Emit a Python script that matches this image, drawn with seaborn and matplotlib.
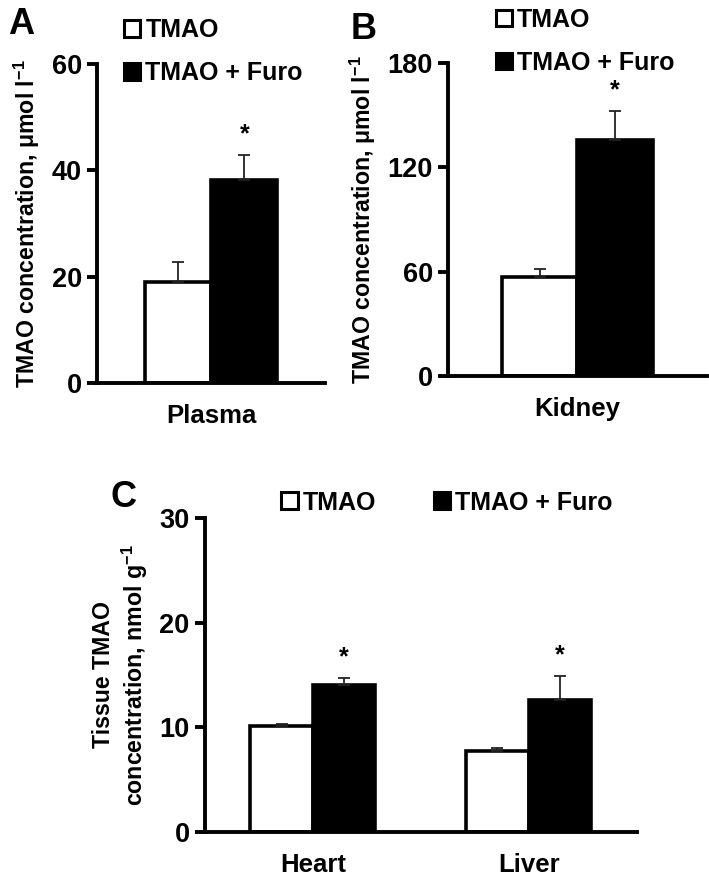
import matplotlib
matplotlib.use("Agg")
import matplotlib.pyplot as plt
from matplotlib.patches import Patch
import pandas as pd
import seaborn as sns

# groups and data
groups = ["TMAO", "TMAO + Furo"]

plasma_tissue = ["Plasma", "Plasma"]
plasma_mean = [19.0, 38.1]
plasma_sem = [3.8, 4.8]

kidney_tissue = ["Kidney", "Kidney"]
kidney_mean = [57.1, 136.0]
kidney_sem = [4.1, 16.6]

organ_tissue = ["Heart", "Heart", "Liver", "Liver"]
organ_group = ["TMAO", "TMAO + Furo", "TMAO", "TMAO + Furo"]
organ_mean = [10.1, 14.0, 7.75, 12.65]
organ_sem = [0.25, 0.7, 0.25, 2.25]

sns.set_style("white")
plt.rcParams["font.family"] = ["Liberation Sans", "DejaVu Sans"]
plt.rcParams["font.weight"] = "bold"
plt.rcParams["text.color"] = "black"
plt.rcParams["axes.labelcolor"] = "black"
plt.rcParams["xtick.color"] = "black"
plt.rcParams["ytick.color"] = "black"
plt.rcParams["mathtext.fontset"] = "custom"
plt.rcParams["mathtext.rm"] = "Liberation Sans:bold"
plt.rcParams["mathtext.default"] = "rm"

palette = {"TMAO": "white", "TMAO + Furo": "black"}

fig = plt.figure(figsize=(7.09, 8.76), dpi=100)
axA = fig.add_axes([0.137, 0.563, 0.322, 0.364])
axB = fig.add_axes([0.632, 0.571, 0.365, 0.357])
axC = fig.add_axes([0.289, 0.050, 0.609, 0.359])


def draw(ax, df, ymax, yticks, ylabel, n_cat):
    sns.barplot(data=df, x="tissue", y="value", hue="group", hue_order=groups,
                palette=palette, edgecolor="black", linewidth=2.6, width=0.58,
                errorbar=None, legend=False, ax=ax)
    for p in ax.patches:
        h = p.get_height()
        row = df.iloc[(df["value"] - h).abs().argmin()]
        xc = p.get_x() + p.get_width() / 2
        ax.errorbar(xc, h, yerr=[[0], [row["sem"]]], color="#222222",
                    elinewidth=1.3, capsize=4.5, capthick=1.3)
        if row["group"] == "TMAO + Furo":
            ax.annotate("*", (xc, h + row["sem"]), xytext=(0, 6),
                        textcoords="offset points", ha="center", va="bottom",
                        fontsize=18, fontweight="bold")
    ax.set_ylim(0, ymax)
    ax.set_xlim(-0.5, n_cat - 0.5)
    ax.set_yticks(yticks)
    ax.set_ylabel(ylabel, fontsize=16.7, fontweight="bold", labelpad=7)
    ax.set_xlabel("")
    sns.despine(ax=ax)
    for s in ["left", "bottom"]:
        ax.spines[s].set_linewidth(2.8)
        ax.spines[s].set_color("black")
    ax.set_xticks([i + 0.5 for i in range(n_cat)], minor=True)
    ax.tick_params(axis="x", which="major", length=0, pad=15, labelsize=18.5)
    ax.tick_params(axis="x", which="minor", direction="out", length=6,
                   width=2.8, color="black")
    ax.tick_params(axis="y", direction="out", length=7, width=2.8,
                   color="black", labelsize=19.5, pad=4)
    ax.yaxis.set_ticks_position("left")
    for t in ax.get_xticklabels() + ax.get_yticklabels():
        t.set_fontweight("bold")


dfA = pd.DataFrame({"tissue": plasma_tissue, "group": groups,
                    "value": plasma_mean, "sem": plasma_sem})
dfB = pd.DataFrame({"tissue": kidney_tissue, "group": groups,
                    "value": kidney_mean, "sem": kidney_sem})
dfC = pd.DataFrame({"tissue": organ_tissue, "group": organ_group,
                    "value": organ_mean, "sem": organ_sem})

draw(axA, dfA, 60, [0, 20, 40, 60], r"TMAO concentration, μmol l$^{-1}$", 1)
draw(axB, dfB, 180, [0, 60, 120, 180], r"TMAO concentration, μmol l$^{-1}$", 1)
draw(axC, dfC, 30, [0, 10, 20, 30],
     "Tissue TMAO\nconcentration, nmol g$^{-1}$", 2)

handles = [Patch(facecolor="white", edgecolor="black", linewidth=2.2),
           Patch(facecolor="black", edgecolor="black", linewidth=2.2)]
leg_kw = dict(frameon=False, handlelength=0.65, handleheight=0.65,
              handletextpad=0.2, borderpad=0, borderaxespad=0,
              loc="upper left", bbox_transform=fig.transFigure,
              prop={"size": 18, "weight": "bold"})
axA.legend(handles, groups, bbox_to_anchor=(0.175, 0.979), labelspacing=0.75,
           **leg_kw)
axB.legend(handles, groups, bbox_to_anchor=(0.699, 0.991), labelspacing=0.75,
           **leg_kw)
axC.legend(handles, groups, bbox_to_anchor=(0.397, 0.440), ncol=2,
           columnspacing=2.3, **leg_kw)

fig.text(0.012, 0.972, "A", fontsize=26, fontweight="bold", va="center")
fig.text(0.494, 0.966, "B", fontsize=26, fontweight="bold", va="center")
fig.text(0.156, 0.432, "C", fontsize=26, fontweight="bold", va="center")

fig.savefig("out.png", dpi=100)
